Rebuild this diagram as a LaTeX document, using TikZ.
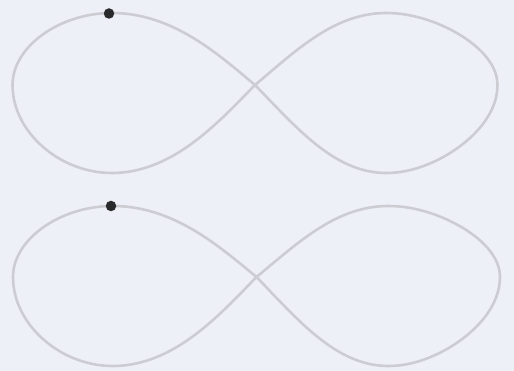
\documentclass[tikz,border=0pt]{standalone}
\begin{document}
\begin{tikzpicture}[x=1pt,y=-1pt,
  declare function={lu(\t)=cos(\t)/(1+sin(\t)^2);
                    lv(\t)=sin(\t)*cos(\t)/(1+sin(\t)^2)/0.35355;
                    wx(\u)=\u-(0.2+0.1*sign(\u))*\u*abs(\u)*(1-\u*\u);},
  curve/.style={draw={rgb,255:red,204;green,205;blue,210},line width=2.6pt,line join=round},
  dotnode/.style={circle,fill={rgb,255:red,40;green,42;blue,44},inner sep=0pt,minimum size=10.5pt}]
\definecolor{paper}{RGB}{238,240,248}
\fill[paper] (0,0) rectangle (514,371);
\useasboundingbox (0,0) rectangle (514,371);
% top figure eight
\draw[curve] plot[domain=0:360,samples=241,smooth,variable=\t]
  ({255+242.5*wx(lu(\t))},
   {85+lv(\t)*(80+8*sign(lv(\t)))});
% bottom figure eight
\draw[curve] plot[domain=0:360,samples=241,smooth,variable=\t]
  ({256.5+243.5*wx(lu(\t))},
   {277+lv(\t)*(80+9*sign(lv(\t)))});
\node[dotnode] (d1) at (109,13.5) {};
\node[dotnode] (d2) at (111,206) {};
\end{tikzpicture}
\end{document}
